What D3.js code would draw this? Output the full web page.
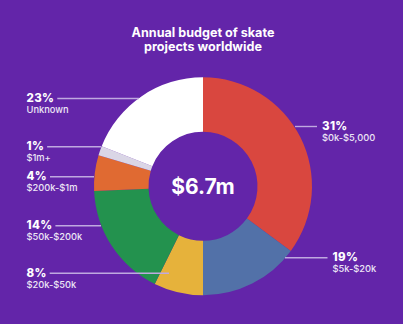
<!DOCTYPE html>
<html><head><meta charset="utf-8">
<script src="https://cdn.jsdelivr.net/npm/d3@7"></script>
<style>
html,body{margin:0;padding:0;background:#6325A9;}
svg{display:block;font-family:Inter, "Noto Sans", sans-serif;}
</style></head>
<body>
<svg id="c" width="403" height="324"></svg>
<script>
// Data
const categories = ["$0k-$5,000","$5k-$20k","$20k-$50k","$50k-$200k","$200k-$1m","$1m+","Unknown"];
const percentLabels = ["31%","19%","8%","14%","4%","1%","23%"];
// slice shares as drawn in the picture (angular share, %)
const sliceShares = [35.1,14.9,7.3,17.0,5.3,1.4,19.0];
const colors = ["#D9473F","#5271A8","#E6B23B","#23924E","#E06A32","#DAD6E6","#FFFFFF"];
const title = ["Annual budget of skate","projects worldwide"];
const centerLabel = "$6.7m";

// Layout (positions kept separate from data)
const W=403,H=324, cx=203, cy=186.3, R=109, r=54.5;
const labelLayout = [
  {side:"right", x:322, y:126.5, x1:295},
  {side:"right", x:332.5, y:257.7, x1:285},
  {side:"left", x:26.5, y:273.3, x2:169},
  {side:"left", x:26.5, y:225.7, x2:101},
  {side:"left", x:26.5, y:176.7, x2:94},
  {side:"left", x:26.5, y:146.7, x2:101},
  {side:"left", x:26.5, y:98.5, x2:139}
];

const svg=d3.select("#c");
svg.append("rect").attr("width",W).attr("height",H).attr("fill","#6325A9");

svg.append("text").attr("x",cx).attr("y",36.5).attr("text-anchor","middle")
  .attr("fill","#fff").attr("font-weight",700).attr("font-size",12.6)
  .selectAll("tspan").data(title).join("tspan")
  .attr("x",cx).attr("dy",(d,i)=>i?14:0).text(d=>d);

const pie=d3.pie().sort(null).value(d=>d);
const arc=d3.arc().innerRadius(r).outerRadius(R);
const g=svg.append("g").attr("transform",`translate(${cx},${cy})`);
g.selectAll("path").data(pie(sliceShares)).join("path")
  .attr("d",arc).attr("fill",(d,i)=>colors[i]);

g.append("text").attr("x",0).attr("y",7.5).attr("text-anchor","middle")
  .attr("fill","#fff").attr("font-weight",700).attr("font-size",21).text(centerLabel);

const lab=svg.append("g");
categories.forEach((cat,i)=>{
  const L=labelLayout[i];
  const pt=lab.append("text").attr("x",L.x).attr("y",L.y+3.6)
    .attr("fill","#fff").attr("font-weight",800).attr("font-size",11.5)
    .attr("letter-spacing",0.35).text(percentLabels[i]);
  lab.append("text").attr("x",L.x).attr("y",L.y+14.4)
    .attr("fill","#EDE6F6").attr("font-weight",500).attr("font-size",9.3).text(cat);
  const w=pt.node().getComputedTextLength();
  let x1,x2;
  if(L.side==="left"){x1=L.x+w+3;x2=L.x2;}else{x1=L.x1;x2=L.x-5;}
  lab.append("line").attr("x1",x1).attr("x2",x2).attr("y1",L.y).attr("y2",L.y)
    .attr("stroke","#BFA9E0").attr("stroke-width",1.4);
});
</script>
</body></html>
